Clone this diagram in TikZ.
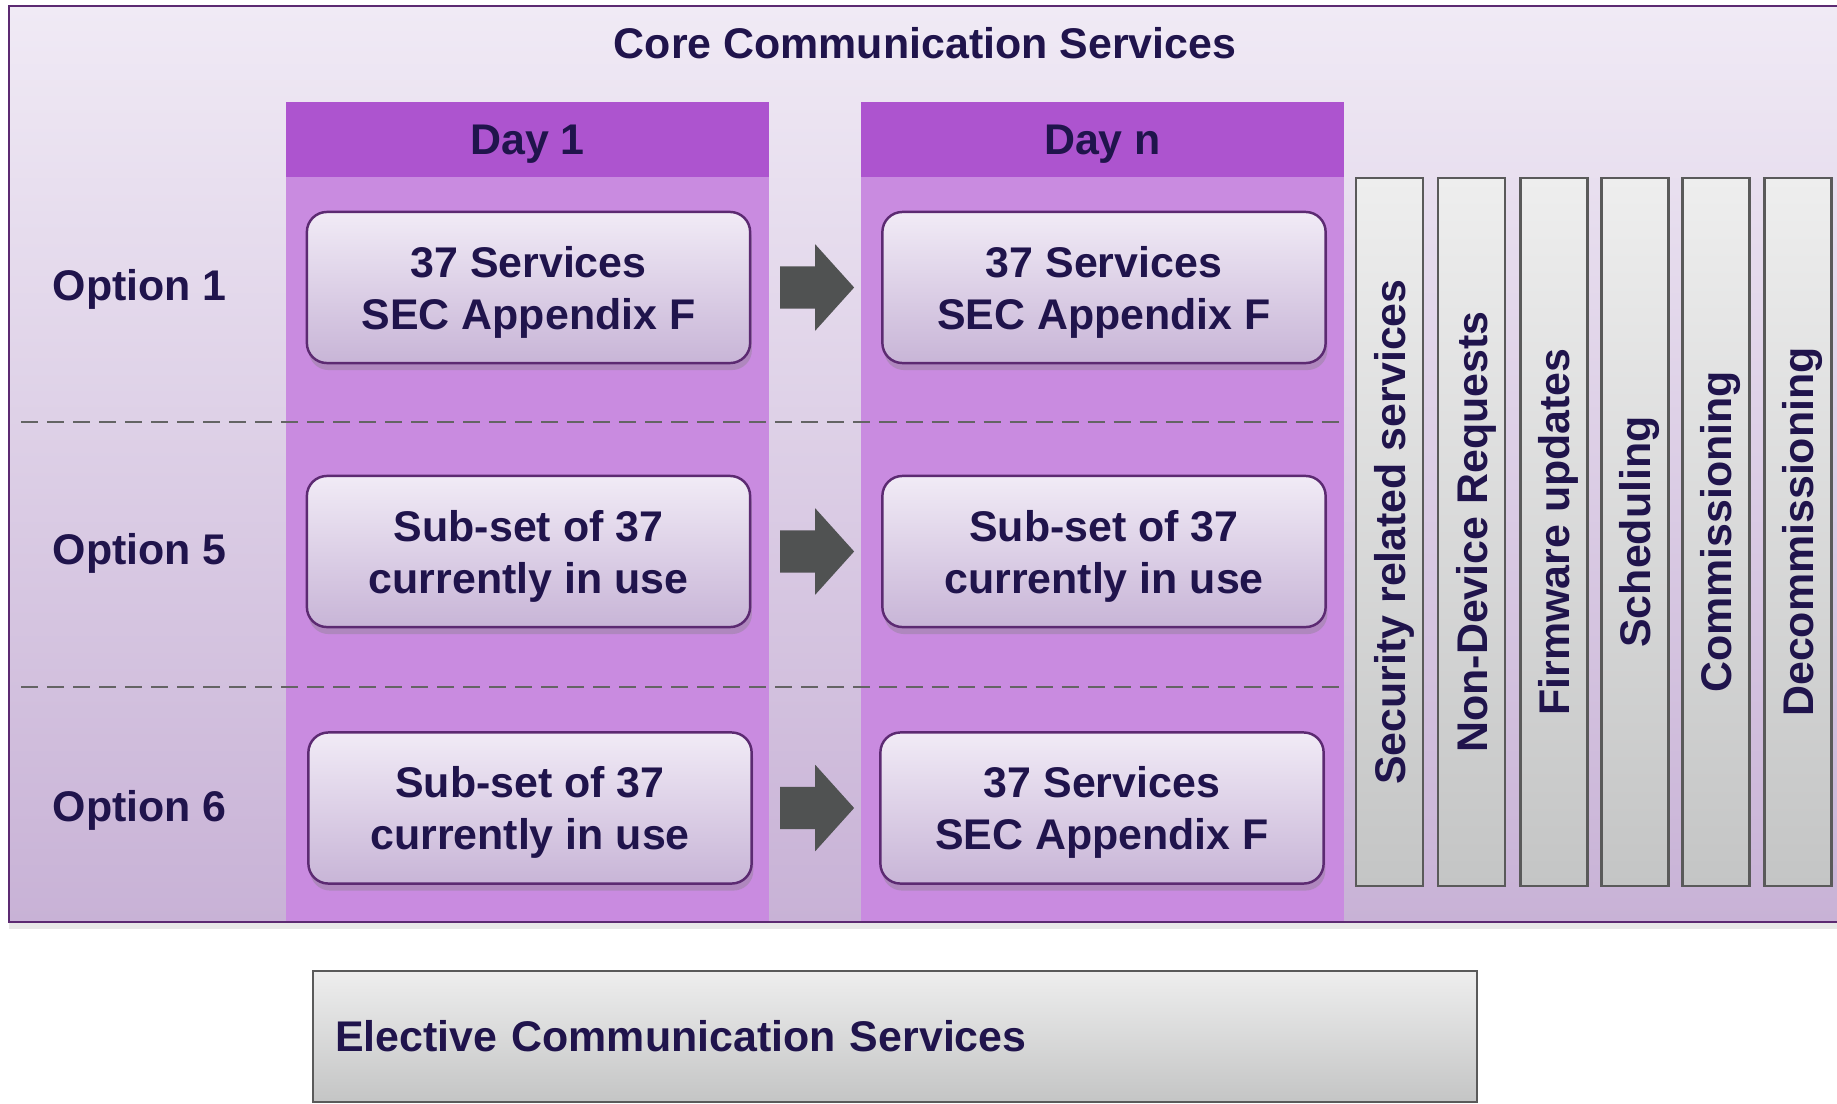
\documentclass[tikz,border=0pt]{standalone}
\usepackage{fontspec}
\setmainfont{Liberation Sans}
\usetikzlibrary{shapes.arrows,shadows}

\definecolor{frameviolet}{RGB}{92,42,114}
\definecolor{bgtop}{RGB}{240,234,245}
\definecolor{bgbottom}{RGB}{200,178,214}
\definecolor{dayhead}{RGB}{173,84,207}
\definecolor{daybody}{RGB}{201,139,224}
\definecolor{boxtop}{RGB}{241,235,246}
\definecolor{boxbottom}{RGB}{200,181,215}
\definecolor{inktext}{RGB}{32,20,76}
\definecolor{arrowgray}{RGB}{80,82,82}
\definecolor{bartop}{RGB}{238,238,238}
\definecolor{barbottom}{RGB}{196,197,197}
\definecolor{barline}{RGB}{90,90,90}
\definecolor{dashgray}{RGB}{100,100,100}

\tikzset{
	every node/.style={font=\fontsize{12.2}{14.8}\selectfont\bfseries, text=inktext},
	optionbox/.style={draw=frameviolet, line width=0.7pt, rounded corners=0.2cm,
		top color=boxtop, bottom color=boxbottom, align=center, text depth=0pt,
		minimum width=4.43cm, minimum height=1.51cm,
		drop shadow={shadow xshift=0.5pt, shadow yshift=-2pt, opacity=0.35}},
	dayheader/.style={fill=dayhead, minimum width=4.83cm, minimum height=0.75cm,
		inner sep=0pt, text depth=0pt},
	optlabel/.style={anchor=west, inner xsep=0pt},
	blockarrow/.style={single arrow, fill=arrowgray, anchor=tail, minimum height=0.74cm,
		inner xsep=0pt, inner ysep=0.205cm, single arrow head extend=0.22cm,
		single arrow head indent=0pt, single arrow tip angle=96},
	servicebar/.style={draw=barline, line width=0.6pt, top color=bartop, bottom color=barbottom,
		minimum width=0.67cm, minimum height=7.08cm, inner sep=0pt},
	barlabel/.style={rotate=90, text depth=0pt},
	divider/.style={dashgray, line width=0.6pt, dash pattern=on 0.17cm off 0.09cm}
}

\begin{document}
\begin{tikzpicture}[x=0.01cm, y=-0.01cm]
	\path[use as bounding box] (0,0) rectangle (1837,1103);
	\clip (0,0) rectangle (1837,1103);
	
	% core frame
	\path[top color=bgtop, bottom color=bgbottom,
		drop shadow={shadow xshift=0pt, shadow yshift=-2pt, opacity=0.18}] (9,6) rectangle (1860,922);
	\fill[daybody] (286,177) rectangle (769,922);
	\fill[daybody] (861,177) rectangle (1344,922);
	\draw[frameviolet, line width=0.8pt] (9,6) rectangle (1860,922);
	
	\node (core) at (925,43) {Core Communication Services};
	\node[dayheader] (day1) at (527.5,139.5) {Day 1};
	\node[dayheader] (dayn) at (1102.5,139.5) {Day n};
	
	\draw[divider] (21,422) -- (1344,422);
	\draw[divider] (21,687) -- (1344,687);
	
	\node[optlabel] (opt1) at (52,289.5) {Option 1};
	\node[optlabel] (opt5) at (52,553.5) {Option 5};
	\node[optlabel] (opt6) at (52,810.5) {Option 6};
	
	\node[optionbox] (d1a) at (528.5,287.5) {37 Services\\SEC Appendix F};
	\node[optionbox] (dna) at (1104,287.5) {37 Services\\SEC Appendix F};
	\node[optionbox] (d1b) at (528.5,551.5) {Sub-set of 37\\currently in use};
	\node[optionbox] (dnb) at (1104,551.5) {Sub-set of 37\\currently in use};
	\node[optionbox] (d1c) at (530,808) {Sub-set of 37\\currently in use};
	\node[optionbox] (dnc) at (1102,808) {37 Services\\SEC Appendix F};
	
	\node[blockarrow] (arra) at ([xshift=0.28cm]d1a.east) {};
	\node[blockarrow] (arrb) at ([xshift=0.28cm]d1b.east) {};
	\node[blockarrow] (arrc) at ([xshift=0.265cm]d1c.east) {};
	
	% service bars
	\node[servicebar] (bar1) at (1389.5,532) {};
	\node[servicebar] (bar2) at (1471.5,532) {};
	\node[servicebar] (bar3) at (1554,532) {};
	\node[servicebar] (bar4) at (1635,532) {};
	\node[servicebar] (bar5) at (1716,532) {};
	\node[servicebar] (bar6) at (1798,532) {};
	\node[barlabel] at (bar1) {Security related services};
	\node[barlabel] at (bar2) {Non-Device Requests};
	\node[barlabel] at (bar3) {Firmware updates};
	\node[barlabel] at (bar4) {Scheduling};
	\node[barlabel] at (bar5) {Commissioning};
	\node[barlabel] at (bar6) {Decommissioning};
	
	\node[servicebar, anchor=north west, minimum width=11.63cm, minimum height=1.31cm,
		text width=11.19cm, inner xsep=0.22cm, align=left] (elective) at (312,970)
		{Elective Communication Services};
\end{tikzpicture}
\end{document}
